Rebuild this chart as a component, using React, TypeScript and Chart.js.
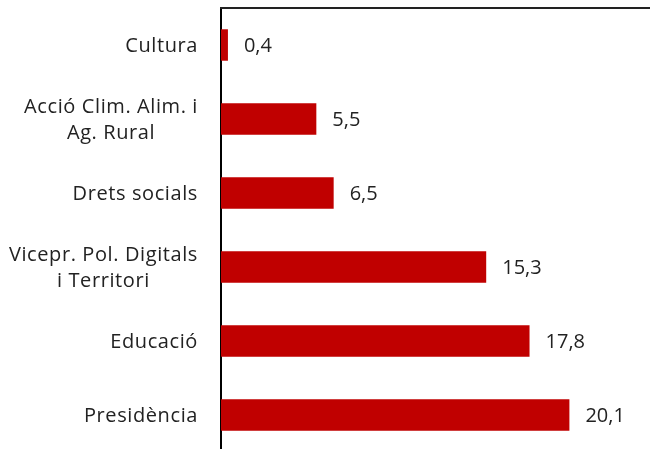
import React, { useEffect, useRef } from "react";
import { Chart, registerables } from "chart.js";

Chart.register(...registerables);

const categories: string[][] = [
  ["Cultura"],
  ["Acció Clim. Alim. i", "Ag. Rural"],
  ["Drets socials"],
  ["Vicepr. Pol. Digitals", "i Territori"],
  ["Educació"],
  ["Presidència"],
];
const values: number[] = [0.4, 5.5, 6.5, 15.3, 17.8, 20.1];
const xMax = 24.75;

const BAR_COLOR = "#C00000";
const TEXT_COLOR = "#222222";
const FONT = "20px 'Open Sans'";

const labelPlugin = {
  id: "customLabels",
  afterDraw(chart: any) {
    const ctx = chart.ctx;
    const yScale = chart.scales.y;
    const area = chart.chartArea;
    ctx.save();
    // top border line
    ctx.strokeStyle = "#222222";
    ctx.lineWidth = 2;
    ctx.beginPath();
    ctx.moveTo(area.left - 1, area.top);
    ctx.lineTo(chart.width, area.top);
    ctx.stroke();

    ctx.font = FONT;
    ctx.fillStyle = TEXT_COLOR;
    ctx.textBaseline = "middle";
    (ctx as any).letterSpacing = "0.6px";
    const rightEdge = area.left - 23;
    const lineH = 26;
    categories.forEach((lines, i) => {
      const cy = yScale.getPixelForValue(i) + 1;
      const w = Math.max(...lines.map((l) => ctx.measureText(l).width));
      const cx = rightEdge - w / 2;
      ctx.textAlign = "center";
      lines.forEach((line, j) => {
        const y = cy + (j - (lines.length - 1) / 2) * lineH;
        ctx.fillText(line, cx, y);
      });
    });

    (ctx as any).letterSpacing = "0px";
    const meta = chart.getDatasetMeta(0);
    ctx.textAlign = "left";
    meta.data.forEach((bar: any, i: number) => {
      const txt = values[i].toFixed(1).replace(".", ",");
      ctx.fillText(txt, bar.x + 16, bar.y + 1);
    });
    ctx.restore();
  },
};

export default function App() {
  const ref = useRef<HTMLCanvasElement | null>(null);
  useEffect(() => {
    document.body.style.margin = "0";
    if (!ref.current) return;
    const chart = new Chart(ref.current, {
      type: "bar",
      data: {
        labels: categories.map((c) => c.join(" ")),
        datasets: [
          {
            data: values,
            backgroundColor: BAR_COLOR,
            borderWidth: 0,
            barPercentage: 0.425,
            categoryPercentage: 1,
          },
        ],
      },
      options: {
        indexAxis: "y",
        animation: false,
        responsive: false,
        maintainAspectRatio: false,
        layout: { padding: { top: 8, right: 0, bottom: 0, left: 0 } },
        plugins: {
          legend: { display: false },
          tooltip: { enabled: false },
          title: { display: false },
        },
        scales: {
          x: {
            display: false,
            min: 0,
            max: xMax,
            grid: { display: false },
          },
          y: {
            display: true,
            ticks: { display: false },
            grid: { display: false, drawTicks: false },
            border: { display: true, color: "#000000", width: 2 },
            afterFit(scale: any) {
              scale.width = 221;
            },
          },
        },
      },
      plugins: [labelPlugin],
    });
    return () => chart.destroy();
  }, []);
  return (
    <div style={{ position: "fixed", left: 0, top: 0, width: 650, height: 449, overflow: "hidden", background: "#fff" }}>
      <canvas ref={ref} width={650} height={452} style={{ width: 650, height: 452, display: "block" }} />
    </div>
  );
}
